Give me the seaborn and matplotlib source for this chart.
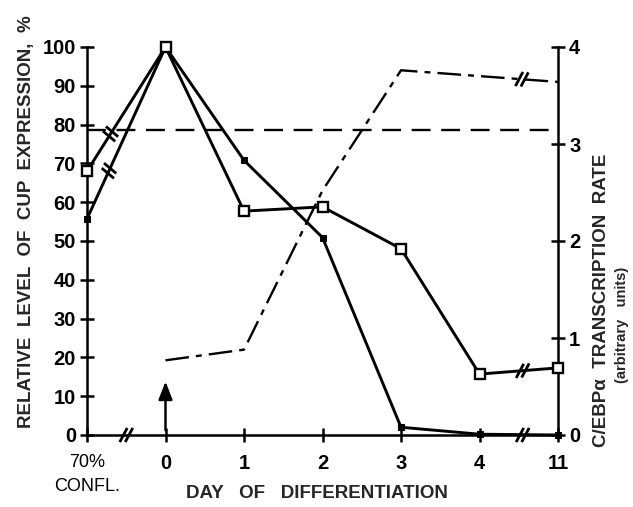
import numpy as np
import pandas as pd
import matplotlib
matplotlib.use("Agg")
import matplotlib.pyplot as plt
import seaborn as sns
from matplotlib.lines import Line2D

# ---- data ----
categories = ["70%\nCONFL.", "0", "1", "2", "3", "4", "11"]
cup_open = [68.0, 100.0, 57.7, 58.8, 48.0, 15.7, 17.3]
cup_filled = [55.7, 100.0, 70.8, 50.9, 2.0, 0.2, 0.0]
cebpa_rate = [np.nan, 0.77, 0.88, 2.52, 3.76, np.nan, 3.64]
reference_level = 78.6
left_ticks = list(range(0, 101, 10))
right_ticks = [0, 1, 2, 3, 4]

sns.set_theme(style="white")
plt.rcParams["font.family"] = ["Liberation Sans", "DejaVu Sans"]
plt.rcParams["font.weight"] = "bold"

fig = plt.figure(figsize=(6.33, 5.07), dpi=100)
ax = fig.add_axes([87 / 633, 1 - 435 / 507, (558 - 87) / 633, (435 - 47) / 507])
ax2 = ax.twinx()
ax2.set_zorder(ax.get_zorder() - 1)
ax.patch.set_visible(False)

pos = list(range(len(categories)))
df = pd.DataFrame({"pos": pos, "open": cup_open, "filled": cup_filled, "rate": cebpa_rate})

sns.lineplot(data=df, x="pos", y="filled", ax=ax, color="black", lw=2.1,
             marker="s", markersize=4.2, markerfacecolor="black",
             markeredgecolor="black", zorder=5, clip_on=False)
sns.lineplot(data=df, x="pos", y="open", ax=ax, color="black", lw=2.1,
             marker="s", markersize=7, markerfacecolor="white",
             markeredgecolor="black", markeredgewidth=1.7, zorder=6, clip_on=False)
ax.axhline(reference_level, color="black", lw=1.7, linestyle=(0, (8, 4.5)), zorder=3)

dfr = df.dropna(subset=["rate"])
sns.lineplot(data=dfr, x="pos", y="rate", ax=ax2, color="black", lw=1.7,
             linestyle=(0, (10, 3, 2.5, 3)), zorder=4, clip_on=False)

ax.set_xlim(0, len(categories) - 1)
ax.set_ylim(0, 100)
ax2.set_ylim(0, 4)
ax.set_xticks(pos)
ax.set_xticklabels(categories)
ax.set_yticks(left_ticks)
ax2.set_yticks(right_ticks)

for a in (ax, ax2):
    a.spines["top"].set_visible(False)
    for s in a.spines.values():
        s.set_linewidth(1.8)
        s.set_color("black")
    a.set_xlabel("")
    a.set_ylabel("")
ax.spines["right"].set_visible(False)
ax2.spines["left"].set_visible(False)
ax2.spines["bottom"].set_visible(False)

ax.tick_params(axis="both", direction="inout", length=10, width=1.8, colors="black",
               labelsize=14.5)
ax.tick_params(axis="y", pad=3, left=True)
ax.tick_params(axis="x", pad=9, bottom=True)
ax2.tick_params(axis="y", direction="inout", length=10, width=1.8, colors="black",
                labelsize=14.5, pad=3, right=True)
for t in ax.get_yticklabels() + ax2.get_yticklabels() + ax.get_xticklabels():
    t.set_fontweight("bold")
xl = ax.get_xticklabels()
xl[0].set_fontweight("normal")
xl[0].set_fontsize(13)
xl[0].set_linespacing(1.5)

# arrow at day 0
ax.annotate("", xy=(1, 14.5), xytext=(1, 0.5),
            arrowprops=dict(arrowstyle="-|>,head_length=0.9,head_width=0.35",
                            color="black", lw=1.8), zorder=6)

# labels
fig.text(27 / 633, 1 - 222 / 507, "RELATIVE  LEVEL  OF  CUP  EXPRESSION,  %",
         rotation=90, ha="center", va="center", fontsize=13.5, fontweight="bold")
fig.text(601 / 633, 1 - 300 / 507, "C/EBPα  TRANSCRIPTION  RATE",
         rotation=90, ha="center", va="center", fontsize=13.5, fontweight="bold")
fig.text(622 / 633, 1 - 325 / 507, "(arbitrary   units)",
         rotation=90, ha="center", va="center", fontsize=10.5, fontweight="bold")
fig.text(317 / 633, 1 - 494 / 507, "DAY   OF   DIFFERENTIATION",
         ha="center", va="center", fontsize=13.5, fontweight="bold")

# ---- break marks ----
fig.canvas.draw()


def slash_pair(axis, x, y, angle_deg, length=16, sep=5.5, along=0.0):
    px, py = axis.transData.transform((x, y))
    a = np.deg2rad(angle_deg)
    ux, uy = np.cos(a), np.sin(a)
    b = np.deg2rad(along)
    vx, vy = np.cos(b), np.sin(b)
    for s in (-sep / 2, sep / 2):
        cx, cy = px + s * vx, py + s * vy
        fig.add_artist(Line2D([cx - ux * length / 2, cx + ux * length / 2],
                              [cy - uy * length / 2, cy + uy * length / 2],
                              transform=None, color="black", lw=2.0,
                              solid_capstyle="butt", zorder=10))


def seg_break(axis, series, i0, i1, t, angle):
    x = i0 + t * (i1 - i0)
    y = series[i0] + t * (series[i1] - series[i0])
    p0 = axis.transData.transform((i0, series[i0]))
    p1 = axis.transData.transform((i1, series[i1]))
    along = np.rad2deg(np.arctan2(p1[1] - p0[1], p1[0] - p0[0]))
    slash_pair(axis, x, y, angle, along=along)


# axis breaks
slash_pair(ax, 0.5, 0, 62)
slash_pair(ax, 5.55, 0, 62)
# line breaks
seg_break(ax, cup_open, 0, 1, 0.3, -40)
seg_break(ax, cup_filled, 0, 1, 0.28, -40)
seg_break(ax, cup_open, 5, 6, 0.55, 62)
rate_ext = [0, 0, 0, 0, 3.76, 3.70, 3.64]
seg_break(ax2, rate_ext, 4, 6, 0.77, 62)

fig.savefig("out.png", dpi=100)
